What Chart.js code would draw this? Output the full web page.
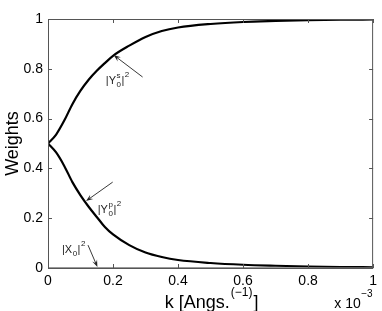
<!DOCTYPE html>
<html>
<head>
<meta charset="utf-8">
<script src="https://cdn.jsdelivr.net/npm/chart.js@4.4.1/dist/chart.umd.min.js"></script>
<style>
  html, body { margin: 0; padding: 0; background: #fff; }
  #wrap { width: 382px; height: 311px; }
</style>
</head>
<body>
<div id="wrap"><canvas id="chart" width="382" height="311"></canvas></div>
<script>
// k in units of 1e-3 Angs^-1
const kValues = [0, 0.025, 0.05, 0.075, 0.1, 0.125, 0.15, 0.175, 0.2, 0.25, 0.3, 0.35, 0.4, 0.5, 0.6, 0.7, 0.8, 0.9, 1.0];
const ysWeights = [0.5, 0.536, 0.592, 0.658, 0.712, 0.756, 0.792, 0.823, 0.852, 0.893, 0.928, 0.952, 0.966, 0.980, 0.988, 0.992, 0.995, 0.997, 0.998];
const ypWeights = [0.5, 0.464, 0.410, 0.345, 0.292, 0.246, 0.205, 0.165, 0.135, 0.092, 0.062, 0.044, 0.032, 0.020, 0.013, 0.009, 0.006, 0.004, 0.003];
const x0Weights = [0, 0, 0, 0, 0, 0, 0, 0, 0, 0, 0, 0, 0, 0, 0, 0, 0, 0, 0];
const xTicks = [0, 0.2, 0.4, 0.6, 0.8, 1];
const yTicks = [0, 0.2, 0.4, 0.6, 0.8, 1];

const FONT = '"Liberation Sans", Arial, Helvetica, sans-serif';
const AXIS = "#555";

const pts = (ys) => kValues.map((k, i) => ({ x: k, y: ys[i] }));

/* ---------- annotations (data coords) ---------- */
const notes = [
  { base: "Y", sup: "s", sub: "0", at: [0.178, 0.739], tail: [0.291, 0.767], head: [0.202, 0.855] },
  { base: "Y", sup: "p", sub: "0", at: [0.153, 0.221], tail: [0.199, 0.345], head: [0.117, 0.269] },
  { base: "X", sup: null, sub: "0", at: [0.043, 0.062], tail: [0.123, 0.092], head: [0.152, 0.004] },
];

function drawModSq(ctx, x, y, n) {
  const size = 11, small = 8;
  ctx.textBaseline = "alphabetic";
  ctx.textAlign = "left";
  ctx.font = `${size}px ${FONT}`;
  ctx.fillText("|" + n.base, x, y);
  x += ctx.measureText("|" + n.base).width;
  ctx.font = `${small}px ${FONT}`;
  let w = 0;
  if (n.sup) { ctx.fillText(n.sup, x + 0.5, y - 6); w = Math.max(w, ctx.measureText(n.sup).width); }
  if (n.sub) { ctx.fillText(n.sub, x + 0.5, y + 3); w = Math.max(w, ctx.measureText(n.sub).width); }
  x += w + 1;
  ctx.font = `${size}px ${FONT}`;
  ctx.fillText("|", x, y);
  x += ctx.measureText("|").width;
  ctx.font = `${small}px ${FONT}`;
  ctx.fillText("2", x + 0.5, y - 7);
}

function drawArrow(ctx, x1, y1, x2, y2) {
  const a = Math.atan2(y2 - y1, x2 - x1);
  const len = 7, hw = 2.6;
  ctx.beginPath();
  ctx.moveTo(x1, y1);
  ctx.lineTo(x2 - Math.cos(a) * len * 0.6, y2 - Math.sin(a) * len * 0.6);
  ctx.stroke();
  ctx.beginPath();
  ctx.moveTo(x2, y2);
  ctx.lineTo(x2 - Math.cos(a) * len - Math.sin(a) * hw, y2 - Math.sin(a) * len + Math.cos(a) * hw);
  ctx.lineTo(x2 - Math.cos(a) * len * 0.6, y2 - Math.sin(a) * len * 0.6);
  ctx.lineTo(x2 - Math.cos(a) * len + Math.sin(a) * hw, y2 - Math.sin(a) * len - Math.cos(a) * hw);
  ctx.closePath();
  ctx.fill();
}

const matlabAxes = {
  id: "matlabAxes",
  afterDatasetsDraw(chart) {
    const { ctx, chartArea: a, scales } = chart;
    const xs = scales.x, ys = scales.y;
    ctx.save();
    // box + inner ticks
    ctx.strokeStyle = AXIS;
    ctx.lineWidth = 1;
    ctx.strokeRect(a.left + 0.5, a.top + 0.5, a.right - a.left - 1, a.bottom - a.top);
    ctx.beginPath();
    xTicks.forEach((v) => {
      const px = Math.round(xs.getPixelForValue(v)) + 0.5;
      ctx.moveTo(px, a.bottom); ctx.lineTo(px, a.bottom - 4);
      ctx.moveTo(px, a.top); ctx.lineTo(px, a.top + 4);
    });
    yTicks.forEach((v) => {
      const py = Math.round(ys.getPixelForValue(v)) + 0.5;
      ctx.moveTo(a.left, py); ctx.lineTo(a.left + 4, py);
      ctx.moveTo(a.right, py); ctx.lineTo(a.right - 4, py);
    });
    ctx.stroke();

    // annotations
    ctx.fillStyle = "#222";
    ctx.strokeStyle = "#222";
    ctx.lineWidth = 0.9;
    notes.forEach((n) => {
      drawModSq(ctx, xs.getPixelForValue(n.at[0]), ys.getPixelForValue(n.at[1]), n);
      drawArrow(ctx,
        xs.getPixelForValue(n.tail[0]), ys.getPixelForValue(n.tail[1]),
        xs.getPixelForValue(n.head[0]), ys.getPixelForValue(n.head[1]));
    });

    // x title with superscript
    ctx.fillStyle = "#000";
    ctx.textBaseline = "alphabetic";
    ctx.textAlign = "left";
    const main = "k [Angs.", sup = "(\u22121)", end = "]";
    ctx.font = `18px ${FONT}`;
    const w1 = ctx.measureText(main).width, w3 = ctx.measureText(end).width;
    ctx.font = `12px ${FONT}`;
    const w2 = ctx.measureText(sup).width;
    let tx = (a.left + a.right) / 2 - (w1 + w2 + w3) / 2;
    const ty = 308;
    ctx.font = `18px ${FONT}`;
    ctx.fillText(main, tx, ty);
    ctx.font = `12px ${FONT}`;
    ctx.fillText(sup, tx + w1 + 1, ty - 12);
    ctx.font = `18px ${FONT}`;
    ctx.fillText(end, tx + w1 + w2 + 2, ty);

    // exponent label
    ctx.font = `14px ${FONT}`;
    const e1 = "x 10";
    const ew1 = ctx.measureText(e1).width;
    ctx.font = `10px ${FONT}`;
    const ew2 = ctx.measureText("\u22123").width;
    const ex = a.right - 1 - ew1 - ew2;
    ctx.font = `14px ${FONT}`;
    ctx.fillText(e1, ex, ty);
    ctx.font = `10px ${FONT}`;
    ctx.fillText("\u22123", ex + ew1 + 0.5, ty - 11);
    ctx.restore();
  },
};

new Chart(document.getElementById("chart"), {
  type: "line",
  data: {
    datasets: [
      { label: "|X0|^2", data: pts(x0Weights), borderColor: "#777", borderWidth: 1.5, pointRadius: 0 },
      { label: "|Ys0|^2", data: pts(ysWeights), borderColor: "#000", borderWidth: 2.2, pointRadius: 0, cubicInterpolationMode: "monotone" },
      { label: "|Yp0|^2", data: pts(ypWeights), borderColor: "#000", borderWidth: 2.2, pointRadius: 0, cubicInterpolationMode: "monotone" },
    ],
  },
  options: {
    responsive: false,
    devicePixelRatio: 1,
    animation: false,
    layout: { padding: { top: 19, right: 8, left: 0, bottom: 0 } },
    plugins: { legend: { display: false }, tooltip: { enabled: false } },
    scales: {
      x: {
        type: "linear", min: 0, max: 1,
        afterBuildTicks: (s) => { s.ticks = xTicks.map((v) => ({ value: v })); },
        afterFit: (s) => { s.height = 43; },
        grid: { display: false, drawTicks: false },
        border: { display: false },
        ticks: { color: "#000", padding: 5, maxRotation: 0, font: { family: FONT, size: 14 }, callback: (v) => String(+v.toFixed(1)) },
      },
      y: {
        min: 0, max: 1,
        afterBuildTicks: (s) => { s.ticks = yTicks.map((v) => ({ value: v })); },
        afterFit: (s) => { s.width = 48; },
        grid: { display: false, drawTicks: false },
        border: { display: false },
        title: { display: true, text: "Weights", color: "#000", padding: { top: 2, bottom: 0 }, font: { family: FONT, size: 18 } },
        ticks: { color: "#000", padding: 5, font: { family: FONT, size: 14 }, callback: (v) => String(+v.toFixed(1)) },
      },
    },
  },
  plugins: [matlabAxes],
});
</script>
</body>
</html>
